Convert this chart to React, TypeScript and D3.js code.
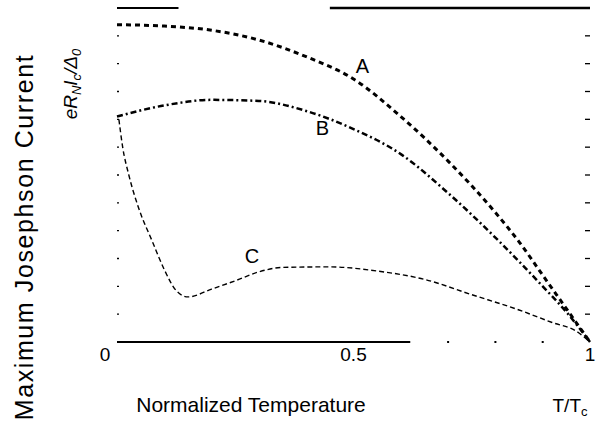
import * as d3 from 'd3'

const W = 606
const H = 427

// curve A, B, C : [T/Tc, eRnIc/Δ0]
const curveA: [number, number][] = [
    [0, 1.14], [0.1, 1.135], [0.2, 1.12], [0.3, 1.085], [0.4, 1.025], [0.5, 0.945],
    [0.6, 0.81], [0.7, 0.65], [0.8, 0.465], [0.85, 0.36], [0.9, 0.24], [0.95, 0.12], [1, 0],
]
const curveB: [number, number][] = [
    [0, 0.81], [0.1, 0.85], [0.2, 0.87], [0.3, 0.866], [0.4, 0.83], [0.5, 0.765],
    [0.6, 0.675], [0.7, 0.535], [0.8, 0.375], [0.9, 0.2], [0.95, 0.108], [1, 0],
]
const curveC: [number, number][] = [
    [0.004, 0.8], [0.012, 0.7], [0.025, 0.6], [0.045, 0.485], [0.075, 0.36], [0.1, 0.26],
    [0.125, 0.185], [0.15, 0.162], [0.2, 0.19], [0.25, 0.22], [0.3, 0.252], [0.35, 0.268],
    [0.45, 0.27], [0.55, 0.255], [0.65, 0.225], [0.75, 0.17], [0.85, 0.115], [0.92, 0.07],
    [0.97, 0.04], [1, 0],
]
const xTickLabels = [0, 0.5, 1]
const yTicks = d3.range(1, 12).map((d) => d / 10)
const curveLabels = [
    { name: 'A', x: 0.505, y: 0.965 },
    { name: 'B', x: 0.42, y: 0.745 },
    { name: 'C', x: 0.27, y: 0.285 },
]

function App() {
    const x = d3.scaleLinear().domain([0, 1]).range([117, 590])
    const y = d3.scaleLinear().domain([0, 1.2]).range([342, 8])

    const line = d3
        .line<[number, number]>()
        .x((d) => x(d[0]))
        .y((d) => y(d[1]))
        .curve(d3.curveMonotoneX)

    const font = '"Liberation Sans", Arial, sans-serif'

    return (
        <svg
            width={W}
            height={H}
            style={{ position: 'absolute', left: 0, top: 0, background: '#fff' }}
            fontFamily={font}
        >
            {/* frame, worn in the scan */}
            <line x1={x(0)} x2={x(0.13)} y1={y(1.2)} y2={y(1.2)} stroke="#000" strokeWidth={2} />
            <line x1={x(0.45)} x2={x(1)} y1={y(1.2)} y2={y(1.2)} stroke="#000" strokeWidth={2.5} />
            <line x1={x(0)} x2={x(0.62)} y1={y(0)} y2={y(0)} stroke="#000" strokeWidth={2} />
            {[0.7, 0.8, 0.9].map((t) => (
                <rect key={t} x={x(t) - 1} y={y(0) - 1} width={2} height={2} fill="#000" />
            ))}

            {/* y ticks */}
            {yTicks.map((t) => (
                <g key={t}>
                    <line x1={x(1) - 5} x2={x(1)} y1={y(t)} y2={y(t)} stroke="#000" strokeWidth={1.3} />
                    <line x1={x(0)} x2={x(0) + 2} y1={y(t)} y2={y(t)} stroke="#000" strokeWidth={1.3} />
                </g>
            ))}

            {/* curves */}
            <path d={line(curveA) ?? ''} fill="none" stroke="#000" strokeWidth={3} strokeDasharray="5,4" />
            <path d={line(curveB) ?? ''} fill="none" stroke="#000" strokeWidth={2.5} strokeDasharray="6,3,2,3" />
            <path d={line(curveC) ?? ''} fill="none" stroke="#000" strokeWidth={1.4} strokeDasharray="5,3" />

            {curveLabels.map((c) => (
                <text key={c.name} x={x(c.x)} y={y(c.y)} fontSize={20} fill="#000">
                    {c.name}
                </text>
            ))}

            {/* x tick labels */}
            {xTickLabels.map((t) => (
                <text key={t} x={x(t) - (t === 0 ? 12 : 0)} y={361} fontSize={19} textAnchor="middle">
                    {t}
                </text>
            ))}

            <text x={251} y={412} fontSize={21} textAnchor="middle">
                Normalized Temperature
            </text>
            <text x={570} y={412} fontSize={19} textAnchor="middle">
                T/T<tspan fontSize={13} dy={4}>c</tspan>
            </text>

            <text transform="translate(33,237) rotate(-90)" fontSize={25} letterSpacing={1.6} textAnchor="middle">
                Maximum Josephson Current
            </text>
            <text transform="translate(77,84) rotate(-90)" fontSize={19} textAnchor="middle" fontStyle="italic">
                eR<tspan fontSize={13} dy={4}>N</tspan>
                <tspan dy={-4}>I</tspan>
                <tspan fontSize={13} dy={4}>c</tspan>
                <tspan dy={-4}>/Δ</tspan>
                <tspan fontSize={13} dy={4}>0</tspan>
            </text>
        </svg>
    )
}

export default App
